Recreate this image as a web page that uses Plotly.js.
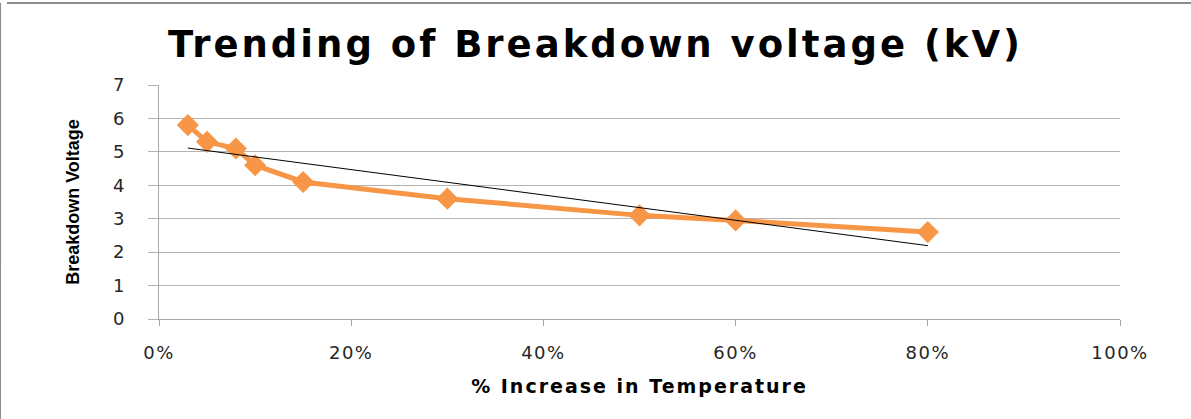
<!DOCTYPE html>
<html>
<head>
<meta charset="utf-8">
<script src="https://cdn.plot.ly/plotly-3.0.1.min.js"></script>
<style>
html,body{margin:0;padding:0;background:#fff;}
#chart{width:1191px;height:419px;}
#chart .gtitle{letter-spacing:3px;}
#chart .xtitle{letter-spacing:2px;}
#chart .xtick text{letter-spacing:1.5px;}
</style>
</head>
<body>
<div id="chart"></div>
<script>
// Data
const tempIncrease = [0.03, 0.05, 0.08, 0.10, 0.15, 0.30, 0.50, 0.60, 0.80];
const breakdownVoltage = [5.8, 5.3, 5.1, 4.6, 4.1, 3.6, 3.1, 2.95, 2.6];
const xTickVals = [0, 0.2, 0.4, 0.6, 0.8, 1.0];
const xTickText = ['0%', '20%', '40%', '60%', '80%', '100%'];
const yTickVals = [0, 1, 2, 3, 4, 5, 6, 7];

// Linear trendline (least squares) computed from the data
const n = tempIncrease.length;
const mx = tempIncrease.reduce((a, b) => a + b, 0) / n;
const my = breakdownVoltage.reduce((a, b) => a + b, 0) / n;
let sxy = 0, sxx = 0;
for (let i = 0; i < n; i++) {
  sxy += (tempIncrease[i] - mx) * (breakdownVoltage[i] - my);
  sxx += (tempIncrease[i] - mx) ** 2;
}
const slope = sxy / sxx;
const intercept = my - slope * mx;
const trendX = [tempIncrease[0], tempIncrease[n - 1]];
const trendY = trendX.map(x => intercept + slope * x);

const series = {
  x: tempIncrease, y: breakdownVoltage, type: 'scatter', mode: 'lines+markers',
  line: {color: '#F79646', width: 5},
  marker: {symbol: 'diamond', size: 17, color: '#F79646'},
  hoverinfo: 'x+y', showlegend: false
};
const trend = {
  x: trendX, y: trendY, type: 'scatter', mode: 'lines',
  line: {color: '#000000', width: 1}, showlegend: false
};

const layout = {
  width: 1191, height: 419,
  margin: {l: 159, r: 71, t: 85, b: 100},
  paper_bgcolor: '#ffffff', plot_bgcolor: '#ffffff',
  title: {
    text: '<b>Trending of Breakdown voltage (kV)</b>',
    font: {family: 'DejaVu Sans', size: 37, color: '#000000'},
    x: 0.5, xanchor: 'center', y: 0.895, yanchor: 'middle'
  },
  xaxis: {
    range: [0, 1], tickvals: xTickVals, ticktext: xTickText,
    showgrid: false, zeroline: false,
    showline: true, linecolor: '#a6a6a6', linewidth: 1,
    ticks: 'outside', ticklen: 6, tickcolor: '#a6a6a6',
    tickfont: {family: 'DejaVu Sans', size: 18, color: '#262626'},
    ticklabelstandoff: 11,
    title: {text: '% Increase in Temperature', font: {family: 'DejaVu Sans', size: 19, color: '#000000', weight: 600}, standoff: 18}
  },
  yaxis: {
    range: [0, 7], tickvals: yTickVals,
    showgrid: true, gridcolor: '#b3b3b3', gridwidth: 1, zeroline: false,
    showline: true, linecolor: '#a6a6a6', linewidth: 1,
    ticks: 'outside', ticklen: 10, tickcolor: '#b3b3b3',
    tickfont: {family: 'DejaVu Sans', size: 18, color: '#262626'},
    ticklabelstandoff: 20,
    title: {text: 'Breakdown Voltage', font: {family: 'Liberation Sans Narrow, Liberation Sans', size: 18, color: '#000000', weight: 600}, standoff: 28}
  },
  shapes: [
    {type: 'line', xref: 'paper', yref: 'paper', x0: -159/961, x1: -159/961 + 0.0001, y0: -100/234, y1: 1 + 82/234, line: {color: '#8c8c8c', width: 2}},
    {type: 'line', xref: 'paper', yref: 'paper', x0: -152/961, x1: 1 + 71/961, y0: 1 + 82/234, y1: 1 + 82/234, line: {color: '#8c8c8c', width: 2}}
  ]
};

Plotly.newPlot('chart', [series, trend], layout, {displayModeBar: false, staticPlot: true});
</script>
</body>
</html>
